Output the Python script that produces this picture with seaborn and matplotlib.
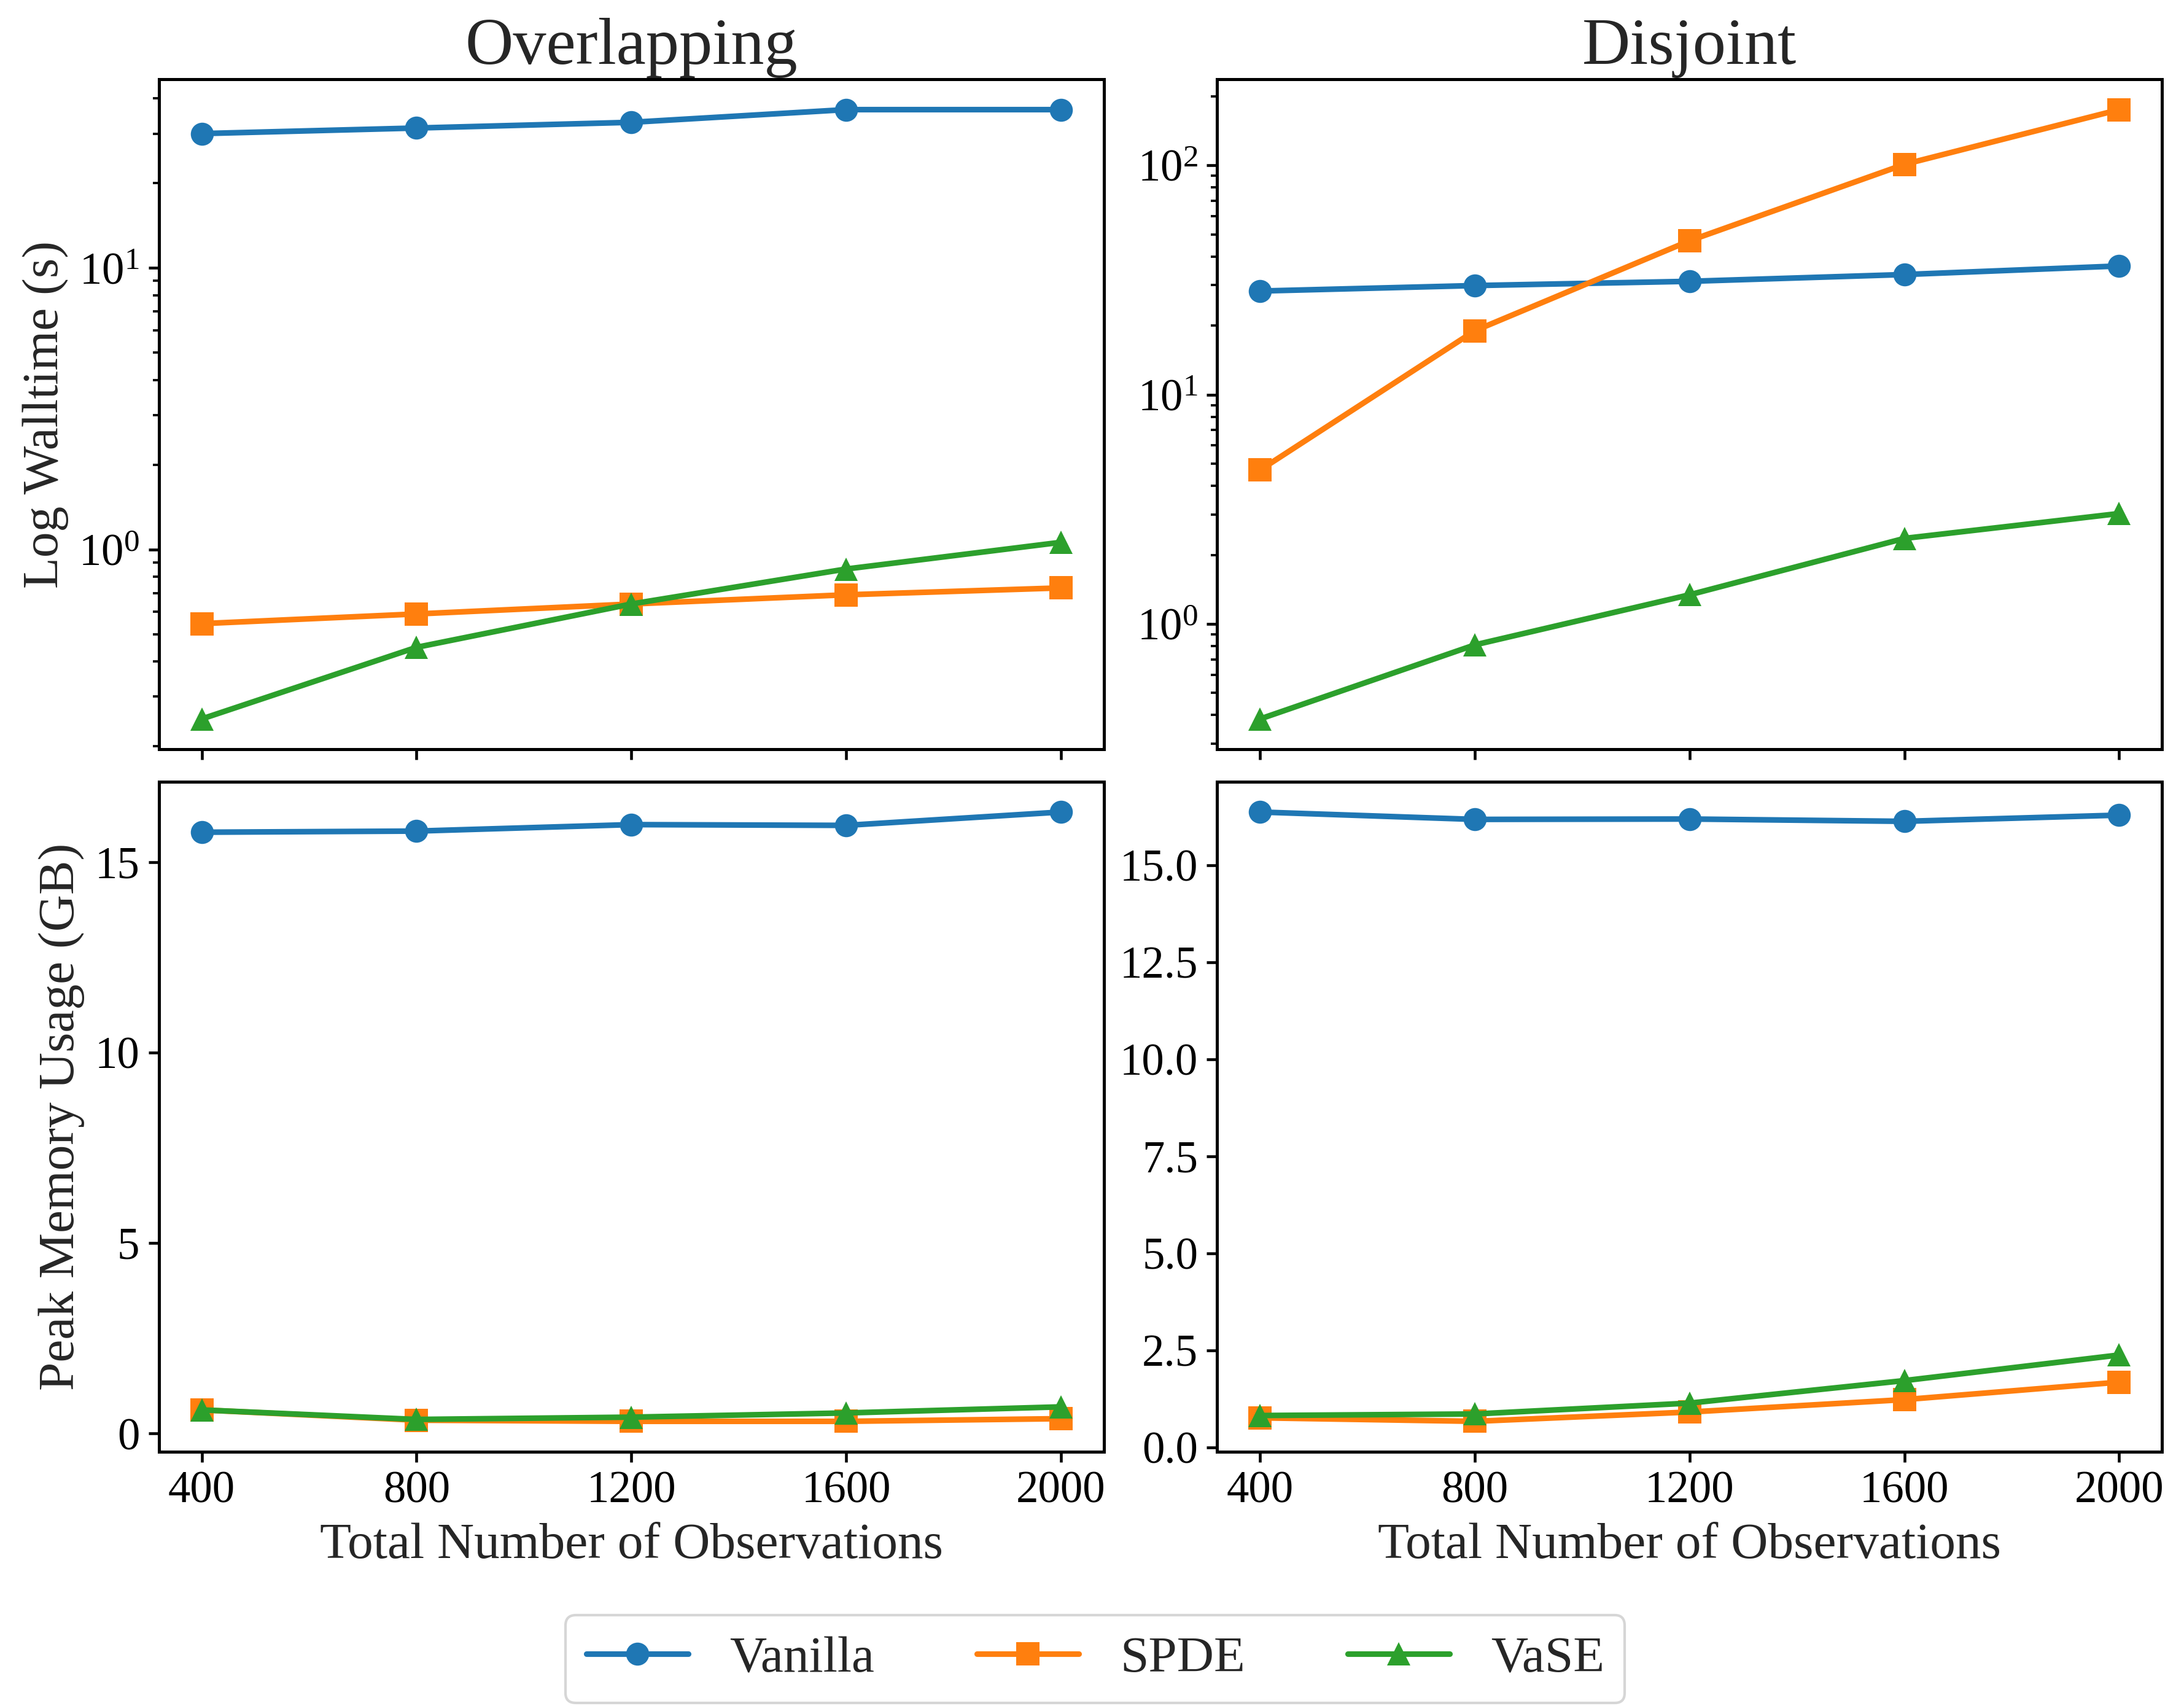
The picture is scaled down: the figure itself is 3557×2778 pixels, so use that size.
import numpy as np
import pandas as pd
import matplotlib
matplotlib.use("Agg")
import matplotlib.pyplot as plt
from matplotlib.ticker import MultipleLocator
import seaborn as sns

# ---- data ----
observations = [400, 800, 1200, 1600, 2000]
methods = ["Vanilla", "SPDE", "VaSE"]

walltime_overlap_vanilla = [30.0, 31.4, 32.9, 36.5, 36.5]
walltime_overlap_spde = [0.545, 0.59, 0.64, 0.69, 0.73]
walltime_overlap_vase = [0.25, 0.449, 0.64, 0.852, 1.06]

walltime_disjoint_vanilla = [28.3, 29.9, 31.2, 33.4, 36.4]
walltime_disjoint_spde = [4.69, 19.0, 46.9, 101.0, 175.0]
walltime_disjoint_vase = [0.385, 0.81, 1.34, 2.36, 3.03]

memory_overlap_vanilla = [15.78, 15.81, 15.98, 15.96, 16.31]
memory_overlap_spde = [0.62, 0.35, 0.32, 0.32, 0.39]
memory_overlap_vase = [0.62, 0.37, 0.43, 0.54, 0.70]

memory_disjoint_vanilla = [16.37, 16.18, 16.19, 16.13, 16.29]
memory_disjoint_spde = [0.76, 0.67, 0.91, 1.23, 1.68]
memory_disjoint_vase = [0.82, 0.86, 1.14, 1.72, 2.38]

col_titles = ["Overlapping", "Disjoint"]
row_labels = ["Log Walltime (s)", "Peak Memory Usage (GB)"]
x_label = "Total Number of Observations"


def make_df(v, s, g):
    rows = []
    for m, vals in zip(methods, [v, s, g]):
        for x, y in zip(observations, vals):
            rows.append({"Observations": x, "Value": y, "Method": m})
    return pd.DataFrame(rows)


panels = [
    [make_df(walltime_overlap_vanilla, walltime_overlap_spde, walltime_overlap_vase),
     make_df(walltime_disjoint_vanilla, walltime_disjoint_spde, walltime_disjoint_vase)],
    [make_df(memory_overlap_vanilla, memory_overlap_spde, memory_overlap_vase),
     make_df(memory_disjoint_vanilla, memory_disjoint_spde, memory_disjoint_vase)],
]

# ---- style ----
sns.set_style("ticks")
plt.rcParams["font.family"] = ["Liberation Serif", "DejaVu Serif"]
plt.rcParams["mathtext.fontset"] = "stix"
plt.rcParams["axes.linewidth"] = 1.2
plt.rcParams["xtick.major.size"] = 4
plt.rcParams["ytick.major.size"] = 4
plt.rcParams["ytick.minor.size"] = 2.5
plt.rcParams["xtick.major.width"] = 1.1
plt.rcParams["ytick.major.width"] = 1.1
plt.rcParams["ytick.minor.width"] = 0.9
plt.rcParams["axes.edgecolor"] = "black"
plt.rcParams["xtick.color"] = "black"
plt.rcParams["ytick.color"] = "black"

palette = {"Vanilla": "#1f77b4", "SPDE": "#ff7f0e", "VaSE": "#2ca02c"}
marker_map = {"Vanilla": "o", "SPDE": "s", "VaSE": "^"}

fig, axes = plt.subplots(2, 2, figsize=(3557 / 300, 2778 / 300), dpi=300, sharex=True)
fig.subplots_adjust(left=0.0727, right=0.99, top=0.9536, bottom=0.149,
                    wspace=0.12, hspace=0.048)

for r in range(2):
    for c in range(2):
        ax = axes[r, c]
        sns.lineplot(data=panels[r][c], x="Observations", y="Value", hue="Method",
                     style="Method", markers=marker_map, dashes=False,
                     palette=palette, hue_order=methods, style_order=methods,
                     markersize=9, linewidth=2.2, markeredgewidth=0, ax=ax)
        if r == 0:
            ax.set_yscale("log")
            ax.set_title(col_titles[c], fontsize=26)
        ax.set_xticks(observations)
        ax.tick_params(axis="both", labelsize=17.5)
        ax.set_xlabel(x_label if r == 1 else "", fontsize=20)
        ax.set_ylabel(row_labels[r] if c == 0 else "", fontsize=20)
        ax.get_legend().remove()

axes[1, 0].yaxis.set_major_locator(MultipleLocator(5))

handles, labels = axes[0, 0].get_legend_handles_labels()
fig.legend(handles, labels, loc="center", bbox_to_anchor=(0.5015, 0.0274),
           ncol=3, fontsize=20, frameon=True)

fig.savefig("out.png", dpi=300)
